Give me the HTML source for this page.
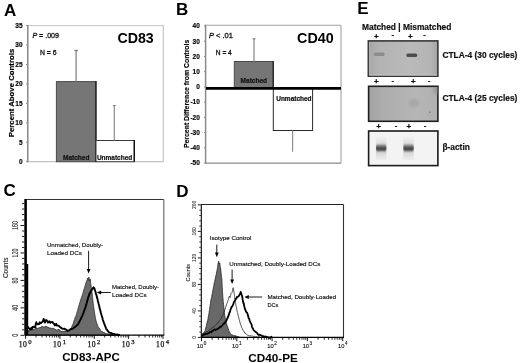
<!DOCTYPE html>
<html><head><meta charset="utf-8"><style>
html,body{margin:0;padding:0;background:#fff;}
svg{display:block;will-change:transform;}
text{font-family:"Liberation Sans", sans-serif;}
</style></head><body>
<svg width="520" height="363" viewBox="0 0 520 363">
<rect width="520" height="363" fill="#fff"/>
<text transform="translate(3.9,15.8) scale(1.0,1)" font-size="17.0" font-weight="bold">A</text>
<text transform="translate(176.0,14.6) scale(1.0,1)" font-size="17.0" font-weight="bold">B</text>
<text transform="translate(3.4,195.6) scale(1.0,1)" font-size="17.0" font-weight="bold">C</text>
<text transform="translate(176.2,197.2) scale(1.0,1)" font-size="17.0" font-weight="bold">D</text>
<text transform="translate(357.2,13.7) scale(1.0,1)" font-size="17.0" font-weight="bold">E</text>
<line x1="27.8" y1="25.6" x2="163.3" y2="25.6" stroke="#c4c4c4" stroke-width="1" />
<line x1="163.3" y1="25.6" x2="163.3" y2="161.7" stroke="#c4c4c4" stroke-width="1.2" />
<line x1="27.8" y1="161.7" x2="163.3" y2="161.7" stroke="#c4c4c4" stroke-width="1.2" />
<line x1="27.8" y1="25.1" x2="27.8" y2="162.2" stroke="#8a8a8a" stroke-width="1.5" />
<line x1="26.0" y1="161.7" x2="27.8" y2="161.7" stroke="#8a8a8a" stroke-width="1" />
<text x="22.6" y="164.04999999999998" font-size="6.5" font-weight="bold" text-anchor="end" fill="#000" stroke="#000" stroke-width="0.15">0</text>
<line x1="26.0" y1="142.25714285714284" x2="27.8" y2="142.25714285714284" stroke="#8a8a8a" stroke-width="1" />
<text x="22.6" y="144.60714285714283" font-size="6.5" font-weight="bold" text-anchor="end" fill="#000" stroke="#000" stroke-width="0.15">5</text>
<line x1="26.0" y1="122.8142857142857" x2="27.8" y2="122.8142857142857" stroke="#8a8a8a" stroke-width="1" />
<text x="22.6" y="125.1642857142857" font-size="6.5" font-weight="bold" text-anchor="end" fill="#000" stroke="#000" stroke-width="0.15">10</text>
<line x1="26.0" y1="103.37142857142857" x2="27.8" y2="103.37142857142857" stroke="#8a8a8a" stroke-width="1" />
<text x="22.6" y="105.72142857142856" font-size="6.5" font-weight="bold" text-anchor="end" fill="#000" stroke="#000" stroke-width="0.15">15</text>
<line x1="26.0" y1="83.92857142857142" x2="27.8" y2="83.92857142857142" stroke="#8a8a8a" stroke-width="1" />
<text x="22.6" y="86.27857142857141" font-size="6.5" font-weight="bold" text-anchor="end" fill="#000" stroke="#000" stroke-width="0.15">20</text>
<line x1="26.0" y1="64.48571428571428" x2="27.8" y2="64.48571428571428" stroke="#8a8a8a" stroke-width="1" />
<text x="22.6" y="66.83571428571427" font-size="6.5" font-weight="bold" text-anchor="end" fill="#000" stroke="#000" stroke-width="0.15">25</text>
<line x1="26.0" y1="45.04285714285713" x2="27.8" y2="45.04285714285713" stroke="#8a8a8a" stroke-width="1" />
<text x="22.6" y="47.39285714285713" font-size="6.5" font-weight="bold" text-anchor="end" fill="#000" stroke="#000" stroke-width="0.15">30</text>
<line x1="26.0" y1="25.599999999999994" x2="27.8" y2="25.599999999999994" stroke="#8a8a8a" stroke-width="1" />
<text x="22.6" y="27.949999999999996" font-size="6.5" font-weight="bold" text-anchor="end" fill="#000" stroke="#000" stroke-width="0.15">35</text>
<text transform="translate(13.7,93) rotate(-90)" font-size="7.8" font-weight="bold" text-anchor="middle" stroke="#000" stroke-width="0.15">Percent Above Controls</text>
<rect x="56.4" y="81.59542857142857" width="39.6" height="80.10457142857142" fill="#767676" stroke="#4a4a4a" stroke-width="1" />
<line x1="95.9" y1="81.09542857142857" x2="95.9" y2="161.7" stroke="#1e1e1e" stroke-width="1.3" />
<rect x="96.0" y="140.5072857142857" width="38.3" height="21.19271428571429" fill="#ffffff" stroke="#3a3a3a" stroke-width="1" />
<line x1="134.3" y1="140.0072857142857" x2="134.3" y2="161.7" stroke="#111" stroke-width="1.4" />
<line x1="76.1" y1="81.59542857142857" x2="76.1" y2="50.3" stroke="#8c8c8c" stroke-width="1.4" />
<line x1="74.4" y1="50.5" x2="77.8" y2="50.5" stroke="#707070" stroke-width="1.2" />
<line x1="114.3" y1="140.5072857142857" x2="114.3" y2="105.4" stroke="#8c8c8c" stroke-width="1.2" />
<line x1="112.8" y1="105.6" x2="115.8" y2="105.6" stroke="#808080" stroke-width="1" />
<text x="76.2" y="160.0" font-size="6.5" font-weight="bold" text-anchor="middle" fill="#111" stroke="#111" stroke-width="0.2">Matched</text>
<text x="114.6" y="160.0" font-size="6.5" font-weight="bold" text-anchor="middle" fill="#111" stroke="#111" stroke-width="0.2">Unmatched</text>
<text x="32.4" y="37.8" font-size="7.2" fill="#111" stroke="#111" stroke-width="0.3" textLength="26.6" lengthAdjust="spacingAndGlyphs"><tspan font-style="italic">P</tspan> = .009</text>
<text x="40.0" y="54.6" font-size="7.2" font-weight="normal" text-anchor="start" fill="#111" stroke="#111" stroke-width="0.3" textLength="16.6" lengthAdjust="spacingAndGlyphs">N = 6</text>
<text x="117.4" y="42.8" font-size="14.2" font-weight="bold" text-anchor="start" fill="#000" >CD83</text>
<line x1="205.6" y1="25.2" x2="341.0" y2="25.2" stroke="#a4a4a4" stroke-width="1.1" />
<line x1="341.0" y1="25.2" x2="341.0" y2="163.2" stroke="#acacac" stroke-width="1.2" />
<line x1="205.6" y1="163.2" x2="341.0" y2="163.2" stroke="#8a8a8a" stroke-width="1.2" />
<line x1="205.6" y1="24.7" x2="205.6" y2="163.7" stroke="#8a8a8a" stroke-width="1.5" />
<line x1="204.0" y1="163.0" x2="205.6" y2="163.0" stroke="#8a8a8a" stroke-width="1" />
<text x="199.8" y="165.35" font-size="6.5" font-weight="bold" text-anchor="end" fill="#000" stroke="#000" stroke-width="0.15">-50</text>
<line x1="204.0" y1="147.78" x2="205.6" y2="147.78" stroke="#8a8a8a" stroke-width="1" />
<text x="199.8" y="150.13" font-size="6.5" font-weight="bold" text-anchor="end" fill="#000" stroke="#000" stroke-width="0.15">-40</text>
<line x1="204.0" y1="132.56" x2="205.6" y2="132.56" stroke="#8a8a8a" stroke-width="1" />
<text x="199.8" y="134.91" font-size="6.5" font-weight="bold" text-anchor="end" fill="#000" stroke="#000" stroke-width="0.15">-30</text>
<line x1="204.0" y1="117.34" x2="205.6" y2="117.34" stroke="#8a8a8a" stroke-width="1" />
<text x="199.8" y="119.69" font-size="6.5" font-weight="bold" text-anchor="end" fill="#000" stroke="#000" stroke-width="0.15">-20</text>
<line x1="204.0" y1="102.12" x2="205.6" y2="102.12" stroke="#8a8a8a" stroke-width="1" />
<text x="199.8" y="104.47" font-size="6.5" font-weight="bold" text-anchor="end" fill="#000" stroke="#000" stroke-width="0.15">-10</text>
<line x1="204.0" y1="86.9" x2="205.6" y2="86.9" stroke="#8a8a8a" stroke-width="1" />
<text x="199.8" y="89.25" font-size="6.5" font-weight="bold" text-anchor="end" fill="#000" stroke="#000" stroke-width="0.15">0</text>
<line x1="204.0" y1="71.68" x2="205.6" y2="71.68" stroke="#8a8a8a" stroke-width="1" />
<text x="199.8" y="74.03" font-size="6.5" font-weight="bold" text-anchor="end" fill="#000" stroke="#000" stroke-width="0.15">10</text>
<line x1="204.0" y1="56.46000000000001" x2="205.6" y2="56.46000000000001" stroke="#8a8a8a" stroke-width="1" />
<text x="199.8" y="58.81000000000001" font-size="6.5" font-weight="bold" text-anchor="end" fill="#000" stroke="#000" stroke-width="0.15">20</text>
<line x1="204.0" y1="41.24" x2="205.6" y2="41.24" stroke="#8a8a8a" stroke-width="1" />
<text x="199.8" y="43.59" font-size="6.5" font-weight="bold" text-anchor="end" fill="#000" stroke="#000" stroke-width="0.15">30</text>
<line x1="204.0" y1="26.020000000000003" x2="205.6" y2="26.020000000000003" stroke="#8a8a8a" stroke-width="1" />
<text x="199.8" y="28.370000000000005" font-size="6.5" font-weight="bold" text-anchor="end" fill="#000" stroke="#000" stroke-width="0.15">40</text>
<text transform="translate(188.8,93.9) rotate(-90)" font-size="6.9" font-weight="bold" text-anchor="middle" stroke="#000" stroke-width="0.15">Percent Difference from Controls</text>
<rect x="234.3" y="61.5" width="39.0" height="26.0" fill="#767676" stroke="#4a4a4a" stroke-width="1" />
<line x1="273.2" y1="61.0" x2="273.2" y2="87.5" stroke="#1e1e1e" stroke-width="1.2" />
<rect x="273.3" y="88.0" width="39.3" height="42.5" fill="#ffffff" stroke="#2a2a2a" stroke-width="1" />
<line x1="254.0" y1="61.5" x2="254.0" y2="38.6" stroke="#909090" stroke-width="1.3" />
<line x1="252.5" y1="38.8" x2="255.5" y2="38.8" stroke="#707070" stroke-width="1.0" />
<line x1="292.6" y1="130.5" x2="292.6" y2="151.8" stroke="#909090" stroke-width="1.2" />
<line x1="206.0" y1="88.3" x2="341.0" y2="88.3" stroke="#000" stroke-width="2.8" />
<text x="253.8" y="83.4" font-size="6.5" font-weight="bold" text-anchor="middle" fill="#111" stroke="#111" stroke-width="0.2">Matched</text>
<text x="293.9" y="101.2" font-size="6.5" font-weight="bold" text-anchor="middle" fill="#111" stroke="#111" stroke-width="0.2">Unmatched</text>
<text x="209" y="37.7" font-size="7.2" fill="#111" stroke="#111" stroke-width="0.3" textLength="23.8" lengthAdjust="spacingAndGlyphs"><tspan font-style="italic">P</tspan> &lt; .01</text>
<text x="215.8" y="54.8" font-size="7.2" font-weight="normal" text-anchor="start" fill="#111" stroke="#111" stroke-width="0.3" textLength="16.0" lengthAdjust="spacingAndGlyphs">N = 4</text>
<text x="297.1" y="43.4" font-size="14.3" font-weight="bold" text-anchor="start" fill="#000" >CD40</text>
<text x="362.0" y="30.0" font-size="8.4" font-weight="bold" text-anchor="start" fill="#111" stroke="#111" stroke-width="0.2">Matched | Mismatched</text>
<text x="376.3" y="38.5" font-size="8" font-weight="bold" text-anchor="middle" fill="#111" stroke="#111" stroke-width="0.25">+</text>
<text x="392.9" y="37.2" font-size="8" font-weight="bold" text-anchor="middle" fill="#111" stroke="#111" stroke-width="0.15">-</text>
<text x="410.4" y="38.5" font-size="8" font-weight="bold" text-anchor="middle" fill="#111" stroke="#111" stroke-width="0.25">+</text>
<text x="424.6" y="37.2" font-size="8" font-weight="bold" text-anchor="middle" fill="#111" stroke="#111" stroke-width="0.15">-</text>
<text x="376.4" y="84.0" font-size="8" font-weight="bold" text-anchor="middle" fill="#111" stroke="#111" stroke-width="0.25">+</text>
<text x="392.9" y="82.7" font-size="8" font-weight="bold" text-anchor="middle" fill="#111" stroke="#111" stroke-width="0.15">-</text>
<text x="413.3" y="84.0" font-size="8" font-weight="bold" text-anchor="middle" fill="#111" stroke="#111" stroke-width="0.25">+</text>
<text x="429.2" y="82.7" font-size="8" font-weight="bold" text-anchor="middle" fill="#111" stroke="#111" stroke-width="0.15">-</text>
<text x="378.6" y="129.0" font-size="8" font-weight="bold" text-anchor="middle" fill="#111" stroke="#111" stroke-width="0.25">+</text>
<text x="396.0" y="127.7" font-size="8" font-weight="bold" text-anchor="middle" fill="#111" stroke="#111" stroke-width="0.15">-</text>
<text x="408.8" y="129.0" font-size="8" font-weight="bold" text-anchor="middle" fill="#111" stroke="#111" stroke-width="0.25">+</text>
<text x="425.0" y="127.7" font-size="8" font-weight="bold" text-anchor="middle" fill="#111" stroke="#111" stroke-width="0.15">-</text>
<defs>
<linearGradient id="g1" x1="0" y1="0" x2="1" y2="0">
<stop offset="0" stop-color="#a6a6a6"/><stop offset="0.15" stop-color="#b2b2b2"/><stop offset="0.6" stop-color="#bababa"/><stop offset="0.9" stop-color="#b4b4b4"/><stop offset="1" stop-color="#a4a4a4"/></linearGradient>
<linearGradient id="g2" x1="0" y1="0" x2="1" y2="0">
<stop offset="0" stop-color="#a2a2a2"/><stop offset="0.2" stop-color="#adadad"/><stop offset="0.7" stop-color="#b6b6b6"/><stop offset="1" stop-color="#b0b0b0"/></linearGradient>
<linearGradient id="sm" x1="0" y1="0" x2="0" y2="1">
<stop offset="0" stop-color="#f0f0f0"/><stop offset="0.3" stop-color="#dcdcdc"/><stop offset="0.5" stop-color="#c4c4c4"/><stop offset="0.7" stop-color="#d8d8d8"/><stop offset="1" stop-color="#eeeeee"/></linearGradient>
<linearGradient id="core" x1="0" y1="0" x2="0" y2="1">
<stop offset="0" stop-color="#8a8a8a"/><stop offset="0.45" stop-color="#555"/><stop offset="0.8" stop-color="#303030"/><stop offset="1" stop-color="#606060"/></linearGradient>
<filter id="bl" x="-50%" y="-50%" width="200%" height="200%"><feGaussianBlur stdDeviation="0.55"/></filter>
<filter id="bl4" x="-50%" y="-50%" width="200%" height="200%"><feGaussianBlur stdDeviation="0.75 0.6"/></filter>
<filter id="bl5" x="-50%" y="-50%" width="200%" height="200%"><feGaussianBlur stdDeviation="0.7 0.8"/></filter>
<filter id="bl3" x="-50%" y="-50%" width="200%" height="200%"><feGaussianBlur stdDeviation="1.5"/></filter>
<filter id="bl2" x="-50%" y="-50%" width="200%" height="200%"><feGaussianBlur stdDeviation="0.5 0.8"/></filter>
</defs>
<rect x="368.3" y="40.9" width="69.6" height="35.3" fill="url(#g1)" stroke="#2c2c2c" stroke-width="1.5" />
<rect x="373.8" y="52.6" width="10.8" height="3.3" fill="#8c8c8c" stroke="none" stroke-width="1" rx="1.5" filter="url(#bl4)"/>
<rect x="406.4" y="53.5" width="10.8" height="3.4" fill="#4e4e4e" stroke="none" stroke-width="1" rx="1.5" filter="url(#bl4)"/>
<line x1="369.3" y1="75.2" x2="437.2" y2="75.2" stroke="#d0d0d0" stroke-width="0.8" />
<line x1="369.3" y1="41.8" x2="369.3" y2="75.2" stroke="#c4c4c4" stroke-width="0.6" />
<rect x="368.6" y="86.3" width="69.3" height="35.0" fill="url(#g2)" stroke="#1e1e1e" stroke-width="1.6" />
<ellipse cx="414" cy="103" rx="5.5" ry="4" fill="#a6a6a6" filter="url(#bl3)"/>
<clipPath id="cg2"><rect x="369" y="87" width="68.5" height="33.6"/></clipPath>
<g clip-path="url(#cg2)"><ellipse cx="438" cy="87" rx="5" ry="8" fill="#949494" opacity="0.8" filter="url(#bl3)"/></g>
<ellipse cx="429.8" cy="112.2" rx="1.1" ry="0.8" fill="#808080" filter="url(#bl)"/>
<rect x="368.6" y="131.0" width="69.3" height="34.6" fill="#f3f3f3" stroke="#1a1a1a" stroke-width="1.6" />
<rect x="375.9" y="137.0" width="10.6" height="23.0" fill="url(#sm)" stroke="none" stroke-width="1" filter="url(#bl)"/>
<rect x="376.0" y="144.8" width="10.4" height="6.2" fill="url(#core)" stroke="none" stroke-width="1" rx="2" filter="url(#bl5)"/>
<rect x="403.2" y="137.0" width="10.6" height="23.0" fill="url(#sm)" stroke="none" stroke-width="1" filter="url(#bl)"/>
<rect x="403.3" y="144.8" width="10.4" height="6.2" fill="url(#core)" stroke="none" stroke-width="1" rx="2" filter="url(#bl5)"/>
<text x="442.4" y="58.0" font-size="8.4" font-weight="bold" text-anchor="start" fill="#111" stroke="#111" stroke-width="0.2">CTLA-4 (30 cycles)</text>
<text x="442.4" y="100.8" font-size="8.4" font-weight="bold" text-anchor="start" fill="#111" stroke="#111" stroke-width="0.2">CTLA-4 (25 cycles)</text>
<text x="442.4" y="149.5" font-size="8.4" font-weight="bold" text-anchor="start" fill="#111" stroke="#111" stroke-width="0.2">&#946;-actin</text>
<path d="M27.00,334.92 L27.00,334.21 L27.00,333.17 L27.00,332.41 L27.00,331.51 L27.00,330.20 L28.00,329.87 L29.00,331.61 L30.00,330.07 L31.00,329.52 L32.00,330.49 L33.00,329.15 L34.00,329.96 L35.00,329.46 L35.67,329.25 L36.33,327.87 L37.00,328.24 L38.00,328.46 L39.00,327.64 L40.00,327.73 L41.00,327.31 L42.00,326.02 L43.00,327.06 L44.00,327.06 L45.00,326.84 L46.00,326.06 L47.00,327.26 L48.00,326.95 L49.00,327.79 L50.00,328.18 L51.00,327.99 L52.00,328.66 L53.00,328.01 L54.00,329.14 L55.00,328.90 L56.00,330.08 L57.00,330.28 L58.00,329.23 L59.00,329.64 L60.00,330.14 L61.00,331.84 L62.00,331.09 L63.00,331.63 L64.00,331.24 L65.00,331.81 L66.00,331.29 L67.00,330.93 L67.75,331.05 L68.50,330.66 L69.25,330.33 L70.00,329.63 L70.47,329.03 L70.93,328.22 L71.40,327.54 L71.83,326.45 L72.27,325.23 L72.70,324.85 L73.00,324.08 L73.30,323.18 L73.60,322.10 L73.90,321.35 L74.20,320.15 L74.50,319.73 L74.79,318.79 L75.07,317.84 L75.36,316.92 L75.64,316.72 L75.93,316.06 L76.21,314.67 L76.50,314.41 L76.75,313.27 L77.00,312.22 L77.25,311.46 L77.50,310.92 L77.75,310.13 L78.00,308.68 L78.23,308.21 L78.47,306.95 L78.70,306.55 L78.93,305.42 L79.17,304.93 L79.40,304.14 L79.67,303.00 L79.93,302.55 L80.20,301.27 L80.47,300.30 L80.73,299.87 L81.00,298.67 L81.28,297.97 L81.56,297.30 L81.84,296.62 L82.12,295.48 L82.40,294.58 L82.62,294.38 L82.84,293.21 L83.06,292.88 L83.28,292.06 L83.50,290.91 L83.78,290.07 L84.05,289.21 L84.32,288.40 L84.60,287.47 L84.87,286.47 L85.13,285.55 L85.40,284.81 L85.63,283.74 L85.87,282.92 L86.10,282.35 L86.80,280.82 L87.07,279.93 L87.33,279.47 L87.60,278.21 L87.90,279.38 L88.20,280.16 L88.38,279.54 L88.55,278.76 L88.73,277.46 L88.90,276.98 L89.02,277.81 L89.14,278.23 L89.26,279.45 L89.38,280.16 L89.50,281.13 L89.85,279.80 L90.20,278.94 L90.30,279.83 L90.40,280.20 L90.50,281.09 L90.60,282.39 L90.70,283.46 L90.80,283.83 L90.92,284.80 L91.03,285.73 L91.15,286.37 L91.27,287.24 L91.38,288.04 L91.50,288.91 L91.62,289.90 L91.73,290.53 L91.85,291.41 L91.97,292.52 L92.08,292.84 L92.20,294.05 L92.29,295.02 L92.37,295.58 L92.46,296.38 L92.54,297.64 L92.63,298.10 L92.71,298.92 L92.80,299.95 L92.91,301.00 L93.03,301.44 L93.14,302.45 L93.26,303.31 L93.37,304.52 L93.49,305.10 L93.60,306.25 L93.71,306.63 L93.83,307.60 L93.94,308.68 L94.06,309.70 L94.17,310.25 L94.29,310.95 L94.40,311.73 L94.55,312.94 L94.70,313.62 L94.85,314.96 L95.00,315.90 L95.15,316.36 L95.30,317.35 L95.50,318.55 L95.70,319.27 L95.90,320.21 L96.10,320.73 L96.30,321.41 L96.50,322.35 L96.80,323.51 L97.10,323.94 L97.40,324.79 L97.70,325.64 L98.00,326.44 L98.50,327.19 L99.00,328.29 L99.50,328.51 L100.00,329.15 L100.62,330.39 L101.25,330.92 L101.88,331.57 L102.50,331.75 L103.28,332.49 L104.05,332.85 L104.82,332.73 L105.60,333.47 L106.48,333.76 L107.36,333.85 L108.24,333.97 L109.12,334.03 L110.00,334.29 L110.86,334.31 L111.71,334.30 L112.57,334.76 L113.43,334.65 L114.29,335.12 L115.14,334.68 L116.00,335.38 Z" fill="#6c6c6c" stroke="#262626" stroke-width="0.8"/>
<path d="M27.60,326.15 L28.30,327.68 L29.00,328.37 L29.75,329.23 L30.50,329.37 L31.25,327.83 L32.00,329.14 L32.50,327.18 L33.00,326.76 L33.50,326.86 L34.25,327.10 L35.00,327.41 L35.22,327.68 L35.43,326.08 L35.65,324.60 L35.87,323.52 L36.08,323.98 L36.30,322.25 L36.70,323.79 L37.10,323.71 L37.50,324.23 L38.25,324.23 L39.00,324.10 L39.75,322.28 L40.50,323.24 L41.25,322.93 L42.00,322.07 L42.85,321.41 L43.70,318.92 L44.35,321.18 L45.00,322.60 L45.75,320.21 L46.50,320.10 L47.25,320.99 L48.00,322.46 L48.75,321.73 L49.50,321.34 L50.25,322.91 L51.00,322.10 L52.50,322.02 L53.07,322.85 L53.63,323.51 L54.20,324.05 L54.85,325.44 L55.50,324.58 L56.25,323.79 L57.00,325.60 L58.50,325.59 L59.25,326.29 L60.00,327.07 L61.50,328.12 L62.25,328.69 L63.00,328.89 L64.50,328.72 L65.25,329.52 L66.00,329.57 L67.50,330.72 L69.00,330.37 L69.75,329.80 L70.50,329.26 L71.25,329.04 L72.00,328.90 L72.75,328.53 L73.50,328.13 L74.25,327.25 L75.00,327.04 L75.72,326.35 L76.45,325.65 L77.18,325.05 L77.90,324.60 L78.32,323.94 L78.74,322.90 L79.16,322.30 L79.58,321.29 L80.00,320.30 L80.42,319.68 L80.85,318.96 L81.28,317.61 L81.70,317.04 L82.00,316.26 L82.30,315.84 L82.60,315.11 L82.90,313.88 L83.20,313.52 L83.55,312.56 L83.90,311.26 L84.25,310.55 L84.60,309.40 L84.88,309.11 L85.16,308.15 L85.44,307.49 L85.72,306.57 L86.00,305.63 L86.22,304.89 L86.45,303.95 L86.68,302.78 L86.90,302.37 L87.18,300.95 L87.45,300.11 L87.72,299.67 L88.00,298.14 L88.28,297.27 L88.55,296.38 L88.82,296.10 L89.10,294.64 L89.47,293.72 L89.83,293.57 L90.20,292.20 L90.75,291.73 L91.30,290.54 L92.00,289.47 L92.80,288.56 L93.50,287.26 L93.95,288.14 L94.40,288.23 L94.70,289.68 L95.00,290.34 L95.30,291.37 L95.55,291.77 L95.80,293.17 L96.05,294.20 L96.30,294.38 L96.55,295.48 L96.80,296.55 L97.00,297.57 L97.20,297.92 L97.40,298.68 L97.60,299.55 L97.80,300.66 L98.00,301.58 L98.20,302.10 L98.40,302.89 L98.61,303.77 L98.83,304.59 L99.04,305.51 L99.26,306.10 L99.47,307.29 L99.69,308.52 L99.90,308.93 L100.11,310.00 L100.33,310.33 L100.54,311.55 L100.76,312.40 L100.97,313.14 L101.19,313.81 L101.40,314.59 L101.65,315.58 L101.90,316.65 L102.15,316.92 L102.40,317.74 L102.65,319.13 L102.90,320.13 L103.20,320.71 L103.50,321.55 L103.80,322.68 L104.10,323.15 L104.40,324.11 L104.72,324.84 L105.04,325.93 L105.36,326.49 L105.68,327.21 L106.00,328.35 L106.50,329.31 L107.00,329.54 L107.50,330.61 L108.00,331.13 L108.67,332.05 L109.33,332.40 L110.00,332.71 L110.83,333.04 L111.67,333.25 L112.50,333.98 L113.38,334.06 L114.25,334.04 L115.12,334.34 L116.00,334.46 L116.80,334.88 L117.60,334.43 L118.40,335.17 L119.20,334.82 L120.00,334.98" fill="none" stroke="#000" stroke-width="1.9" stroke-linejoin="round"/>
<rect x="26.4" y="264.0" width="1.8" height="71.0" fill="#000" stroke="none" stroke-width="1" />
<line x1="25.6" y1="199.5" x2="163.8" y2="199.5" stroke="#333" stroke-width="1" />
<line x1="163.8" y1="199.5" x2="163.8" y2="335.1" stroke="#7a7a7a" stroke-width="1.3" />
<line x1="25.1" y1="335.1" x2="164.3" y2="335.1" stroke="#000" stroke-width="1.3" />
<line x1="25.6" y1="199.0" x2="25.6" y2="335.6" stroke="#000" stroke-width="2.6" />
<line x1="20.5" y1="335.3" x2="24.3" y2="335.3" stroke="#000" stroke-width="0.9" />
<text transform="translate(17.6,335.30) rotate(-90)" font-size="8.4" text-anchor="middle" fill="#2a2a2a" stroke="#2a2a2a" stroke-width="0.06" textLength="3.0" lengthAdjust="spacingAndGlyphs">0</text>
<line x1="22.1" y1="329.81" x2="24.3" y2="329.81" stroke="#000" stroke-width="0.9" />
<line x1="22.1" y1="324.32" x2="24.3" y2="324.32" stroke="#000" stroke-width="0.9" />
<line x1="22.1" y1="318.83000000000004" x2="24.3" y2="318.83000000000004" stroke="#000" stroke-width="0.9" />
<line x1="22.1" y1="313.34000000000003" x2="24.3" y2="313.34000000000003" stroke="#000" stroke-width="0.9" />
<line x1="20.5" y1="307.85" x2="24.3" y2="307.85" stroke="#000" stroke-width="0.9" />
<text transform="translate(17.6,307.85) rotate(-90)" font-size="8.4" text-anchor="middle" fill="#2a2a2a" stroke="#2a2a2a" stroke-width="0.06" textLength="6.0" lengthAdjust="spacingAndGlyphs">40</text>
<line x1="22.1" y1="302.36" x2="24.3" y2="302.36" stroke="#000" stroke-width="0.9" />
<line x1="22.1" y1="296.87" x2="24.3" y2="296.87" stroke="#000" stroke-width="0.9" />
<line x1="22.1" y1="291.38" x2="24.3" y2="291.38" stroke="#000" stroke-width="0.9" />
<line x1="22.1" y1="285.89" x2="24.3" y2="285.89" stroke="#000" stroke-width="0.9" />
<line x1="20.5" y1="280.4" x2="24.3" y2="280.4" stroke="#000" stroke-width="0.9" />
<text transform="translate(17.6,280.40) rotate(-90)" font-size="8.4" text-anchor="middle" fill="#2a2a2a" stroke="#2a2a2a" stroke-width="0.06" textLength="6.0" lengthAdjust="spacingAndGlyphs">80</text>
<line x1="22.1" y1="274.91" x2="24.3" y2="274.91" stroke="#000" stroke-width="0.9" />
<line x1="22.1" y1="269.42" x2="24.3" y2="269.42" stroke="#000" stroke-width="0.9" />
<line x1="22.1" y1="263.93" x2="24.3" y2="263.93" stroke="#000" stroke-width="0.9" />
<line x1="22.1" y1="258.44" x2="24.3" y2="258.44" stroke="#000" stroke-width="0.9" />
<line x1="20.5" y1="252.95" x2="24.3" y2="252.95" stroke="#000" stroke-width="0.9" />
<text transform="translate(17.6,252.95) rotate(-90)" font-size="8.4" text-anchor="middle" fill="#2a2a2a" stroke="#2a2a2a" stroke-width="0.06" textLength="9.0" lengthAdjust="spacingAndGlyphs">120</text>
<line x1="22.1" y1="247.46" x2="24.3" y2="247.46" stroke="#000" stroke-width="0.9" />
<line x1="22.1" y1="241.97000000000003" x2="24.3" y2="241.97000000000003" stroke="#000" stroke-width="0.9" />
<line x1="22.1" y1="236.48000000000002" x2="24.3" y2="236.48000000000002" stroke="#000" stroke-width="0.9" />
<line x1="22.1" y1="230.99" x2="24.3" y2="230.99" stroke="#000" stroke-width="0.9" />
<line x1="20.5" y1="225.5" x2="24.3" y2="225.5" stroke="#000" stroke-width="0.9" />
<text transform="translate(17.6,225.50) rotate(-90)" font-size="8.4" text-anchor="middle" fill="#2a2a2a" stroke="#2a2a2a" stroke-width="0.06" textLength="9.0" lengthAdjust="spacingAndGlyphs">160</text>
<line x1="22.1" y1="220.01" x2="24.3" y2="220.01" stroke="#000" stroke-width="0.9" />
<line x1="22.1" y1="214.52" x2="24.3" y2="214.52" stroke="#000" stroke-width="0.9" />
<line x1="22.1" y1="209.03" x2="24.3" y2="209.03" stroke="#000" stroke-width="0.9" />
<line x1="22.1" y1="203.54000000000002" x2="24.3" y2="203.54000000000002" stroke="#000" stroke-width="0.9" />
<text transform="translate(8.4,267.8) rotate(-90)" font-size="6.6" text-anchor="middle" fill="#222" stroke="#222" stroke-width="0.1" textLength="20.6" lengthAdjust="spacingAndGlyphs">Counts</text>
<line x1="25.6" y1="335.1" x2="25.6" y2="338.90000000000003" stroke="#000" stroke-width="0.9" />
<text x="27.30" y="347.4" font-size="7.6" text-anchor="end" fill="#111" stroke="#111" stroke-width="0.25" style="font-family:'Liberation Serif', serif;letter-spacing:0.5px">10</text>
<text x="28.30" y="344.4" font-size="6.6" text-anchor="start" fill="#111" stroke="#111" stroke-width="0.25" style="font-family:'Liberation Serif', serif">0</text>
<line x1="35.940380351057755" y1="335.1" x2="35.940380351057755" y2="337.5" stroke="#000" stroke-width="0.8" />
<line x1="41.989115099620406" y1="335.1" x2="41.989115099620406" y2="337.5" stroke="#000" stroke-width="0.8" />
<line x1="46.280760702115515" y1="335.1" x2="46.280760702115515" y2="337.5" stroke="#000" stroke-width="0.8" />
<line x1="49.60961964894225" y1="335.1" x2="49.60961964894225" y2="337.5" stroke="#000" stroke-width="0.8" />
<line x1="52.329495450678166" y1="335.1" x2="52.329495450678166" y2="337.5" stroke="#000" stroke-width="0.8" />
<line x1="54.62911767448972" y1="335.1" x2="54.62911767448972" y2="337.5" stroke="#000" stroke-width="0.8" />
<line x1="56.62114105317326" y1="335.1" x2="56.62114105317326" y2="337.5" stroke="#000" stroke-width="0.8" />
<line x1="58.37823019924081" y1="335.1" x2="58.37823019924081" y2="337.5" stroke="#000" stroke-width="0.8" />
<line x1="59.95" y1="335.1" x2="59.95" y2="338.90000000000003" stroke="#000" stroke-width="0.9" />
<text x="61.65" y="347.4" font-size="7.6" text-anchor="end" fill="#111" stroke="#111" stroke-width="0.25" style="font-family:'Liberation Serif', serif;letter-spacing:0.5px">10</text>
<text x="62.65" y="344.4" font-size="6.6" text-anchor="start" fill="#111" stroke="#111" stroke-width="0.25" style="font-family:'Liberation Serif', serif">1</text>
<line x1="70.29038035105776" y1="335.1" x2="70.29038035105776" y2="337.5" stroke="#000" stroke-width="0.8" />
<line x1="76.33911509962041" y1="335.1" x2="76.33911509962041" y2="337.5" stroke="#000" stroke-width="0.8" />
<line x1="80.63076070211551" y1="335.1" x2="80.63076070211551" y2="337.5" stroke="#000" stroke-width="0.8" />
<line x1="83.95961964894225" y1="335.1" x2="83.95961964894225" y2="337.5" stroke="#000" stroke-width="0.8" />
<line x1="86.67949545067816" y1="335.1" x2="86.67949545067816" y2="337.5" stroke="#000" stroke-width="0.8" />
<line x1="88.97911767448973" y1="335.1" x2="88.97911767448973" y2="337.5" stroke="#000" stroke-width="0.8" />
<line x1="90.97114105317327" y1="335.1" x2="90.97114105317327" y2="337.5" stroke="#000" stroke-width="0.8" />
<line x1="92.72823019924081" y1="335.1" x2="92.72823019924081" y2="337.5" stroke="#000" stroke-width="0.8" />
<line x1="94.30000000000001" y1="335.1" x2="94.30000000000001" y2="338.90000000000003" stroke="#000" stroke-width="0.9" />
<text x="96.00" y="347.4" font-size="7.6" text-anchor="end" fill="#111" stroke="#111" stroke-width="0.25" style="font-family:'Liberation Serif', serif;letter-spacing:0.5px">10</text>
<text x="97.00" y="344.4" font-size="6.6" text-anchor="start" fill="#111" stroke="#111" stroke-width="0.25" style="font-family:'Liberation Serif', serif">2</text>
<line x1="104.64038035105777" y1="335.1" x2="104.64038035105777" y2="337.5" stroke="#000" stroke-width="0.8" />
<line x1="110.68911509962041" y1="335.1" x2="110.68911509962041" y2="337.5" stroke="#000" stroke-width="0.8" />
<line x1="114.98076070211552" y1="335.1" x2="114.98076070211552" y2="337.5" stroke="#000" stroke-width="0.8" />
<line x1="118.30961964894226" y1="335.1" x2="118.30961964894226" y2="337.5" stroke="#000" stroke-width="0.8" />
<line x1="121.02949545067817" y1="335.1" x2="121.02949545067817" y2="337.5" stroke="#000" stroke-width="0.8" />
<line x1="123.32911767448974" y1="335.1" x2="123.32911767448974" y2="337.5" stroke="#000" stroke-width="0.8" />
<line x1="125.32114105317328" y1="335.1" x2="125.32114105317328" y2="337.5" stroke="#000" stroke-width="0.8" />
<line x1="127.07823019924082" y1="335.1" x2="127.07823019924082" y2="337.5" stroke="#000" stroke-width="0.8" />
<line x1="128.65" y1="335.1" x2="128.65" y2="338.90000000000003" stroke="#000" stroke-width="0.9" />
<text x="130.35" y="347.4" font-size="7.6" text-anchor="end" fill="#111" stroke="#111" stroke-width="0.25" style="font-family:'Liberation Serif', serif;letter-spacing:0.5px">10</text>
<text x="131.35" y="344.4" font-size="6.6" text-anchor="start" fill="#111" stroke="#111" stroke-width="0.25" style="font-family:'Liberation Serif', serif">3</text>
<line x1="138.99038035105775" y1="335.1" x2="138.99038035105775" y2="337.5" stroke="#000" stroke-width="0.8" />
<line x1="145.0391150996204" y1="335.1" x2="145.0391150996204" y2="337.5" stroke="#000" stroke-width="0.8" />
<line x1="149.33076070211553" y1="335.1" x2="149.33076070211553" y2="337.5" stroke="#000" stroke-width="0.8" />
<line x1="152.65961964894225" y1="335.1" x2="152.65961964894225" y2="337.5" stroke="#000" stroke-width="0.8" />
<line x1="155.37949545067818" y1="335.1" x2="155.37949545067818" y2="337.5" stroke="#000" stroke-width="0.8" />
<line x1="157.67911767448973" y1="335.1" x2="157.67911767448973" y2="337.5" stroke="#000" stroke-width="0.8" />
<line x1="159.67114105317327" y1="335.1" x2="159.67114105317327" y2="337.5" stroke="#000" stroke-width="0.8" />
<line x1="161.42823019924083" y1="335.1" x2="161.42823019924083" y2="337.5" stroke="#000" stroke-width="0.8" />
<line x1="163.0" y1="335.1" x2="163.0" y2="338.90000000000003" stroke="#000" stroke-width="0.9" />
<text x="164.70" y="347.4" font-size="7.6" text-anchor="end" fill="#111" stroke="#111" stroke-width="0.25" style="font-family:'Liberation Serif', serif;letter-spacing:0.5px">10</text>
<text x="165.70" y="344.4" font-size="6.6" text-anchor="start" fill="#111" stroke="#111" stroke-width="0.25" style="font-family:'Liberation Serif', serif">4</text>
<text x="46.9" y="247.4" font-size="6.15" font-weight="normal" fill="#111" textLength="56.2" lengthAdjust="spacingAndGlyphs" stroke="#111" stroke-width="0.15">Unmatched, Doubly-</text>
<text x="46.9" y="254.9" font-size="6.15" font-weight="normal" fill="#111" textLength="35.0" lengthAdjust="spacingAndGlyphs" stroke="#111" stroke-width="0.15">Loaded DCs</text>
<line x1="88.6" y1="250.8" x2="88.6" y2="269.4" stroke="#000" stroke-width="0.9" />
<path d="M86.69999999999999,268.9 L90.5,268.9 L88.6,273.5 Z" fill="#000"/>
<text x="112.0" y="289.3" font-size="6.15" font-weight="normal" fill="#111" textLength="47.0" lengthAdjust="spacingAndGlyphs" stroke="#111" stroke-width="0.15">Matched, Doubly-</text>
<text x="112.0" y="296.6" font-size="6.15" font-weight="normal" fill="#111" textLength="34.6" lengthAdjust="spacingAndGlyphs" stroke="#111" stroke-width="0.15">Loaded DCs</text>
<line x1="100.7" y1="292.5" x2="110.8" y2="292.5" stroke="#000" stroke-width="0.9" />
<path d="M101.2,290.6 L101.2,294.4 L96.8,292.5 Z" fill="#000"/>
<text x="62.3" y="360.6" font-size="11.5" font-weight="bold" text-anchor="start" fill="#000" >CD83-APC</text>
<path d="M201.80,337.37 L201.80,336.77 L201.80,335.79 L201.80,334.56 L202.80,333.68 L203.40,333.32 L204.00,332.86 L204.40,331.63 L204.80,331.20 L205.20,330.66 L205.40,329.37 L205.60,328.33 L205.80,327.53 L206.00,327.22 L206.20,326.40 L206.40,325.90 L206.60,325.01 L206.80,323.62 L207.00,322.79 L207.20,321.94 L207.40,320.95 L207.60,320.54 L207.80,319.78 L208.00,318.90 L208.15,317.46 L208.30,317.27 L208.45,315.91 L208.60,315.22 L208.75,314.73 L208.90,313.29 L209.03,312.48 L209.16,312.41 L209.29,311.05 L209.41,310.30 L209.54,309.71 L209.67,308.99 L209.80,307.51 L209.91,306.98 L210.03,306.22 L210.14,305.41 L210.26,304.28 L210.37,303.80 L210.49,303.31 L210.60,301.89 L210.77,301.19 L210.94,299.90 L211.11,299.20 L211.29,298.74 L211.46,297.33 L211.63,297.24 L211.80,296.41 L211.96,294.77 L212.11,294.78 L212.27,293.39 L212.43,292.96 L212.59,292.11 L212.74,290.82 L212.90,290.38 L213.07,289.47 L213.24,288.73 L213.41,287.31 L213.59,286.91 L213.76,286.23 L213.93,285.06 L214.10,284.04 L214.27,282.83 L214.44,282.42 L214.61,281.50 L214.79,281.08 L214.96,280.25 L215.13,279.35 L215.30,278.18 L215.47,277.86 L215.64,277.06 L215.81,275.82 L215.99,275.75 L216.16,274.73 L216.33,273.41 L216.50,273.43 L216.67,271.72 L216.83,271.00 L217.00,270.47 L217.17,269.43 L217.33,268.47 L217.50,267.65 L217.62,266.62 L217.73,265.65 L217.85,264.68 L217.97,263.74 L218.08,263.55 L218.20,262.75 L218.70,261.24 L218.87,262.44 L219.03,263.06 L219.20,263.97 L219.45,263.28 L219.70,262.97 L219.82,263.12 L219.95,264.55 L220.07,265.27 L220.20,266.77 L220.37,267.22 L220.53,268.07 L220.70,269.00 L220.78,269.96 L220.87,271.01 L220.95,271.40 L221.03,272.71 L221.12,272.80 L221.20,273.77 L221.30,274.46 L221.40,275.33 L221.50,276.85 L221.60,277.66 L221.70,277.97 L221.80,278.83 L221.90,279.92 L221.94,281.08 L221.98,281.98 L222.03,282.75 L222.07,283.43 L222.11,283.81 L222.15,284.90 L222.19,285.53 L222.23,286.69 L222.28,287.57 L222.32,288.04 L222.36,288.92 L222.40,290.28 L222.45,290.36 L222.50,291.95 L222.55,292.87 L222.60,293.75 L222.65,294.01 L222.70,295.00 L222.75,295.86 L222.80,296.73 L222.88,297.88 L222.95,298.39 L223.03,298.80 L223.10,300.16 L223.18,300.58 L223.25,301.50 L223.33,302.43 L223.40,302.50 L223.48,304.12 L223.57,304.86 L223.65,305.54 L223.73,306.42 L223.82,307.21 L223.90,307.79 L224.00,309.03 L224.10,309.44 L224.20,310.80 L224.30,311.85 L224.40,312.54 L224.50,313.57 L224.64,314.88 L224.78,315.73 L224.92,315.90 L225.06,317.47 L225.20,318.22 L225.40,318.50 L225.60,319.66 L225.80,320.38 L226.00,321.08 L226.22,322.34 L226.45,323.53 L226.68,323.72 L226.90,325.07 L227.20,325.83 L227.50,326.20 L227.80,327.86 L228.20,328.70 L228.60,330.13 L229.00,330.82 L229.40,331.74 L229.80,332.09 L230.20,333.31 L230.95,334.18 L231.70,334.86 L232.47,334.87 L233.23,335.62 L234.00,335.79 L235.00,335.74 L236.00,336.01 L237.00,336.38 L237.80,336.62 L238.60,336.70 L239.40,337.16 L240.20,337.48 L241.00,337.44 Z" fill="#686868" stroke="#222" stroke-width="0.8"/>
<path d="M202.00,333.93 L202.75,333.83 L203.50,333.22 L204.25,333.07 L205.00,333.03 L205.75,332.26 L206.50,331.61 L207.25,331.81 L208.00,331.20 L208.60,330.48 L209.20,330.08 L209.80,329.83 L210.40,329.49 L211.00,328.75 L211.60,328.11 L212.20,327.86 L212.80,327.93 L213.40,326.92 L214.00,326.76 L214.60,325.97 L215.20,325.42 L215.80,324.82 L216.40,324.47 L217.00,323.70 L217.50,322.99 L218.00,322.48 L218.50,321.95 L219.00,321.66 L219.50,320.69 L220.00,320.07 L220.36,319.81 L220.71,319.13 L221.07,318.75 L221.43,317.52 L221.79,317.20 L222.14,316.55 L222.50,315.57 L222.79,315.70 L223.07,314.32 L223.36,313.49 L223.64,313.12 L223.93,312.13 L224.21,311.82 L224.50,310.86 L224.71,309.95 L224.93,309.17 L225.14,309.06 L225.36,307.94 L225.57,307.69 L225.79,306.68 L226.00,306.39 L226.28,305.07 L226.57,304.27 L226.85,303.54 L227.13,303.28 L227.42,302.37 L227.70,301.36 L227.92,300.38 L228.15,300.16 L228.38,299.67 L228.60,298.58 L229.00,297.10 L229.40,296.18 L229.80,296.83 L230.20,297.50 L230.33,296.62 L230.47,295.87 L230.60,295.64 L230.73,295.09 L230.87,293.70 L231.00,293.63 L232.00,292.38 L232.23,291.84 L232.47,291.11 L232.70,290.30 L232.87,288.71 L233.03,288.19 L233.20,287.70 L233.32,288.72 L233.44,288.67 L233.56,289.57 L233.68,290.79 L233.80,290.85 L233.92,291.84 L234.04,292.53 L234.16,293.58 L234.28,294.55 L234.40,294.61 L234.49,295.85 L234.58,296.58 L234.67,297.40 L234.76,297.88 L234.84,298.95 L234.93,299.18 L235.02,299.96 L235.11,300.52 L235.20,301.75 L235.36,302.28 L235.52,302.89 L235.68,303.60 L235.84,304.90 L236.00,305.60 L236.13,306.41 L236.27,306.83 L236.40,307.64 L236.53,308.06 L236.67,309.27 L236.80,309.37 L237.00,310.57 L237.20,311.63 L237.40,312.36 L237.60,312.64 L237.78,313.44 L237.96,314.67 L238.14,315.17 L238.32,316.06 L238.50,316.74 L238.70,317.20 L238.90,318.46 L239.10,319.16 L239.30,319.65 L239.50,320.48 L239.70,321.01 L239.90,322.11 L240.10,323.41 L240.40,323.51 L240.70,324.80 L241.00,325.25 L241.27,326.02 L241.53,327.33 L241.80,327.77 L242.20,328.33 L242.60,329.15 L243.00,330.33 L243.43,330.94 L243.87,331.09 L244.30,331.96 L244.90,333.32 L245.50,333.35 L246.15,334.16 L246.80,334.53 L247.53,335.19 L248.27,335.36 L249.00,335.86 L249.90,335.87 L250.80,335.79 L251.70,336.01 L252.52,336.02 L253.34,336.79 L254.16,336.25 L254.98,336.27 L255.80,337.22 L256.57,336.58 L257.35,337.25 L258.12,336.58 L258.90,336.97 L259.68,336.80 L260.45,337.40 L261.23,337.25 L262.00,337.33 L262.73,337.45 L263.45,337.57 L264.18,337.12 L264.91,337.37 L265.64,337.24 L266.36,336.96 L267.09,337.63 L267.82,337.43 L268.55,337.65 L269.27,337.12 L270.00,337.44" fill="none" stroke="#2a2a2a" stroke-width="0.85"/>
<path d="M202.00,335.46 L202.75,335.52 L203.50,334.49 L204.25,334.57 L205.00,334.48 L205.75,333.69 L206.50,333.96 L207.25,333.88 L208.00,333.21 L208.67,333.14 L209.33,332.76 L210.00,331.96 L210.67,331.79 L211.33,332.23 L212.00,331.10 L212.75,330.84 L213.50,330.05 L214.25,329.84 L215.00,329.40 L215.72,329.96 L216.44,329.35 L217.16,329.17 L217.88,328.94 L218.60,328.13 L219.20,328.07 L219.80,327.14 L220.40,326.55 L221.00,326.74 L221.65,326.11 L222.30,325.59 L222.95,324.46 L223.60,324.23 L224.17,323.09 L224.73,323.10 L225.30,322.30 L225.83,320.85 L226.37,320.92 L226.90,319.32 L227.22,318.42 L227.55,318.37 L227.88,317.05 L228.20,316.52 L228.44,315.99 L228.68,314.59 L228.92,314.75 L229.16,313.51 L229.40,313.02 L229.64,312.25 L229.88,312.07 L230.12,311.42 L230.36,310.20 L230.60,309.32 L230.86,308.90 L231.12,308.37 L231.38,307.31 L231.64,306.74 L231.90,306.82 L232.22,306.12 L232.55,305.82 L232.88,305.20 L233.20,304.45 L233.60,303.01 L234.00,301.93 L234.40,301.27 L234.80,300.72 L235.20,300.06 L235.60,299.35 L236.00,298.50 L236.40,298.46 L236.80,297.14 L237.30,296.86 L237.80,296.86 L238.80,296.07 L239.50,294.66 L240.10,293.79 L240.35,293.62 L240.60,291.81 L241.10,292.96 L241.60,294.64 L241.85,295.64 L242.10,296.20 L242.28,296.91 L242.45,297.94 L242.62,299.47 L242.80,299.96 L242.98,301.38 L243.15,301.94 L243.32,302.98 L243.50,302.64 L243.70,303.65 L243.90,304.27 L244.10,305.59 L244.30,306.31 L244.50,306.79 L244.70,308.21 L244.90,308.49 L245.10,309.57 L245.60,310.35 L246.10,311.86 L246.60,312.20 L247.10,312.81 L247.40,313.35 L247.70,314.62 L248.00,315.65 L248.27,316.58 L248.53,317.73 L248.80,318.47 L249.07,318.50 L249.33,319.06 L249.60,320.51 L249.87,321.21 L250.13,321.54 L250.40,322.60 L250.73,323.06 L251.07,323.54 L251.40,324.20 L251.65,324.72 L251.90,326.17 L252.15,327.18 L252.40,327.89 L252.77,328.06 L253.13,329.00 L253.50,330.01 L253.93,330.48 L254.37,330.82 L254.80,331.20 L255.50,331.97 L256.20,332.20 L256.95,332.82 L257.70,334.02 L258.45,334.79 L259.20,334.66 L259.90,334.79 L260.60,335.02 L261.55,335.50 L262.50,336.26 L263.45,336.19 L264.40,337.15 L265.27,336.35 L266.13,336.71 L267.00,337.13 L267.71,337.04 L268.43,337.61 L269.14,337.62 L269.86,337.79 L270.57,337.45 L271.29,336.79 L272.00,337.49" fill="none" stroke="#000" stroke-width="1.8" stroke-linejoin="round"/>
<line x1="201.3" y1="204.5" x2="343.5" y2="204.5" stroke="#222" stroke-width="1" />
<line x1="343.5" y1="204.5" x2="343.5" y2="337.4" stroke="#333" stroke-width="1.1" />
<line x1="200.8" y1="337.4" x2="344.0" y2="337.4" stroke="#000" stroke-width="1.4" />
<line x1="201.3" y1="204.0" x2="201.3" y2="337.9" stroke="#000" stroke-width="1.1" />
<line x1="197.85" y1="337.4" x2="200.75" y2="337.4" stroke="#000" stroke-width="0.9" />
<text transform="translate(196.0,337.40) rotate(-90)" font-size="5.6" text-anchor="middle" fill="#2a2a2a" stroke="#2a2a2a" stroke-width="0.06" textLength="2.7" lengthAdjust="spacingAndGlyphs">0</text>
<line x1="199.35" y1="332.09999999999997" x2="200.75" y2="332.09999999999997" stroke="#000" stroke-width="0.9" />
<line x1="199.35" y1="326.79999999999995" x2="200.75" y2="326.79999999999995" stroke="#000" stroke-width="0.9" />
<line x1="199.35" y1="321.5" x2="200.75" y2="321.5" stroke="#000" stroke-width="0.9" />
<line x1="199.35" y1="316.2" x2="200.75" y2="316.2" stroke="#000" stroke-width="0.9" />
<line x1="197.85" y1="310.9" x2="200.75" y2="310.9" stroke="#000" stroke-width="0.9" />
<text transform="translate(196.0,310.90) rotate(-90)" font-size="5.6" text-anchor="middle" fill="#2a2a2a" stroke="#2a2a2a" stroke-width="0.06" textLength="5.4" lengthAdjust="spacingAndGlyphs">40</text>
<line x1="199.35" y1="305.59999999999997" x2="200.75" y2="305.59999999999997" stroke="#000" stroke-width="0.9" />
<line x1="199.35" y1="300.29999999999995" x2="200.75" y2="300.29999999999995" stroke="#000" stroke-width="0.9" />
<line x1="199.35" y1="295.0" x2="200.75" y2="295.0" stroke="#000" stroke-width="0.9" />
<line x1="199.35" y1="289.7" x2="200.75" y2="289.7" stroke="#000" stroke-width="0.9" />
<line x1="197.85" y1="284.4" x2="200.75" y2="284.4" stroke="#000" stroke-width="0.9" />
<text transform="translate(196.0,284.40) rotate(-90)" font-size="5.6" text-anchor="middle" fill="#2a2a2a" stroke="#2a2a2a" stroke-width="0.06" textLength="5.4" lengthAdjust="spacingAndGlyphs">80</text>
<line x1="199.35" y1="279.09999999999997" x2="200.75" y2="279.09999999999997" stroke="#000" stroke-width="0.9" />
<line x1="199.35" y1="273.79999999999995" x2="200.75" y2="273.79999999999995" stroke="#000" stroke-width="0.9" />
<line x1="199.35" y1="268.5" x2="200.75" y2="268.5" stroke="#000" stroke-width="0.9" />
<line x1="199.35" y1="263.2" x2="200.75" y2="263.2" stroke="#000" stroke-width="0.9" />
<line x1="197.85" y1="257.9" x2="200.75" y2="257.9" stroke="#000" stroke-width="0.9" />
<text transform="translate(196.0,257.90) rotate(-90)" font-size="5.6" text-anchor="middle" fill="#2a2a2a" stroke="#2a2a2a" stroke-width="0.06" textLength="8.100000000000001" lengthAdjust="spacingAndGlyphs">120</text>
<line x1="199.35" y1="252.59999999999997" x2="200.75" y2="252.59999999999997" stroke="#000" stroke-width="0.9" />
<line x1="199.35" y1="247.29999999999998" x2="200.75" y2="247.29999999999998" stroke="#000" stroke-width="0.9" />
<line x1="199.35" y1="242.0" x2="200.75" y2="242.0" stroke="#000" stroke-width="0.9" />
<line x1="199.35" y1="236.7" x2="200.75" y2="236.7" stroke="#000" stroke-width="0.9" />
<line x1="197.85" y1="231.39999999999998" x2="200.75" y2="231.39999999999998" stroke="#000" stroke-width="0.9" />
<text transform="translate(196.0,231.40) rotate(-90)" font-size="5.6" text-anchor="middle" fill="#2a2a2a" stroke="#2a2a2a" stroke-width="0.06" textLength="8.100000000000001" lengthAdjust="spacingAndGlyphs">160</text>
<line x1="199.35" y1="226.09999999999997" x2="200.75" y2="226.09999999999997" stroke="#000" stroke-width="0.9" />
<line x1="199.35" y1="220.79999999999998" x2="200.75" y2="220.79999999999998" stroke="#000" stroke-width="0.9" />
<line x1="199.35" y1="215.5" x2="200.75" y2="215.5" stroke="#000" stroke-width="0.9" />
<line x1="199.35" y1="210.2" x2="200.75" y2="210.2" stroke="#000" stroke-width="0.9" />
<line x1="197.85" y1="204.89999999999998" x2="200.75" y2="204.89999999999998" stroke="#000" stroke-width="0.9" />
<text transform="translate(196.0,204.90) rotate(-90)" font-size="5.6" text-anchor="middle" fill="#2a2a2a" stroke="#2a2a2a" stroke-width="0.06" textLength="8.100000000000001" lengthAdjust="spacingAndGlyphs">200</text>
<text transform="translate(190.0,272.7) rotate(-90)" font-size="5.6" text-anchor="middle" fill="#222" stroke="#222" stroke-width="0.1" textLength="17.6" lengthAdjust="spacingAndGlyphs">Counts</text>
<line x1="201.5" y1="337.4" x2="201.5" y2="341.2" stroke="#000" stroke-width="0.9" />
<text x="203.20" y="347.8" font-size="5.8" text-anchor="end" fill="#111" stroke="#111" stroke-width="0.12" style="font-family:'Liberation Sans', sans-serif;letter-spacing:0px">10</text>
<text x="203.70" y="344.90000000000003" font-size="4.6" text-anchor="start" fill="#111" stroke="#111" stroke-width="0.12" style="font-family:'Liberation Sans', sans-serif">0</text>
<line x1="212.12635884693853" y1="337.4" x2="212.12635884693853" y2="339.79999999999995" stroke="#000" stroke-width="0.8" />
<line x1="218.3423802916041" y1="337.4" x2="218.3423802916041" y2="339.79999999999995" stroke="#000" stroke-width="0.8" />
<line x1="222.75271769387706" y1="337.4" x2="222.75271769387706" y2="339.79999999999995" stroke="#000" stroke-width="0.8" />
<line x1="226.17364115306145" y1="337.4" x2="226.17364115306145" y2="339.79999999999995" stroke="#000" stroke-width="0.8" />
<line x1="228.96873913854262" y1="337.4" x2="228.96873913854262" y2="339.79999999999995" stroke="#000" stroke-width="0.8" />
<line x1="231.33196081250327" y1="337.4" x2="231.33196081250327" y2="339.79999999999995" stroke="#000" stroke-width="0.8" />
<line x1="233.37907654081562" y1="337.4" x2="233.37907654081562" y2="339.79999999999995" stroke="#000" stroke-width="0.8" />
<line x1="235.18476058320817" y1="337.4" x2="235.18476058320817" y2="339.79999999999995" stroke="#000" stroke-width="0.8" />
<line x1="236.8" y1="337.4" x2="236.8" y2="341.2" stroke="#000" stroke-width="0.9" />
<text x="238.50" y="347.8" font-size="5.8" text-anchor="end" fill="#111" stroke="#111" stroke-width="0.12" style="font-family:'Liberation Sans', sans-serif;letter-spacing:0px">10</text>
<text x="239.00" y="344.90000000000003" font-size="4.6" text-anchor="start" fill="#111" stroke="#111" stroke-width="0.12" style="font-family:'Liberation Sans', sans-serif">1</text>
<line x1="247.42635884693854" y1="337.4" x2="247.42635884693854" y2="339.79999999999995" stroke="#000" stroke-width="0.8" />
<line x1="253.6423802916041" y1="337.4" x2="253.6423802916041" y2="339.79999999999995" stroke="#000" stroke-width="0.8" />
<line x1="258.05271769387707" y1="337.4" x2="258.05271769387707" y2="339.79999999999995" stroke="#000" stroke-width="0.8" />
<line x1="261.47364115306146" y1="337.4" x2="261.47364115306146" y2="339.79999999999995" stroke="#000" stroke-width="0.8" />
<line x1="264.2687391385426" y1="337.4" x2="264.2687391385426" y2="339.79999999999995" stroke="#000" stroke-width="0.8" />
<line x1="266.6319608125033" y1="337.4" x2="266.6319608125033" y2="339.79999999999995" stroke="#000" stroke-width="0.8" />
<line x1="268.67907654081563" y1="337.4" x2="268.67907654081563" y2="339.79999999999995" stroke="#000" stroke-width="0.8" />
<line x1="270.4847605832082" y1="337.4" x2="270.4847605832082" y2="339.79999999999995" stroke="#000" stroke-width="0.8" />
<line x1="272.1" y1="337.4" x2="272.1" y2="341.2" stroke="#000" stroke-width="0.9" />
<text x="273.80" y="347.8" font-size="5.8" text-anchor="end" fill="#111" stroke="#111" stroke-width="0.12" style="font-family:'Liberation Sans', sans-serif;letter-spacing:0px">10</text>
<text x="274.30" y="344.90000000000003" font-size="4.6" text-anchor="start" fill="#111" stroke="#111" stroke-width="0.12" style="font-family:'Liberation Sans', sans-serif">2</text>
<line x1="282.7263588469386" y1="337.4" x2="282.7263588469386" y2="339.79999999999995" stroke="#000" stroke-width="0.8" />
<line x1="288.9423802916041" y1="337.4" x2="288.9423802916041" y2="339.79999999999995" stroke="#000" stroke-width="0.8" />
<line x1="293.3527176938771" y1="337.4" x2="293.3527176938771" y2="339.79999999999995" stroke="#000" stroke-width="0.8" />
<line x1="296.7736411530615" y1="337.4" x2="296.7736411530615" y2="339.79999999999995" stroke="#000" stroke-width="0.8" />
<line x1="299.56873913854264" y1="337.4" x2="299.56873913854264" y2="339.79999999999995" stroke="#000" stroke-width="0.8" />
<line x1="301.9319608125033" y1="337.4" x2="301.9319608125033" y2="339.79999999999995" stroke="#000" stroke-width="0.8" />
<line x1="303.97907654081564" y1="337.4" x2="303.97907654081564" y2="339.79999999999995" stroke="#000" stroke-width="0.8" />
<line x1="305.7847605832082" y1="337.4" x2="305.7847605832082" y2="339.79999999999995" stroke="#000" stroke-width="0.8" />
<line x1="307.4" y1="337.4" x2="307.4" y2="341.2" stroke="#000" stroke-width="0.9" />
<text x="309.10" y="347.8" font-size="5.8" text-anchor="end" fill="#111" stroke="#111" stroke-width="0.12" style="font-family:'Liberation Sans', sans-serif;letter-spacing:0px">10</text>
<text x="309.60" y="344.90000000000003" font-size="4.6" text-anchor="start" fill="#111" stroke="#111" stroke-width="0.12" style="font-family:'Liberation Sans', sans-serif">3</text>
<line x1="318.02635884693854" y1="337.4" x2="318.02635884693854" y2="339.79999999999995" stroke="#000" stroke-width="0.8" />
<line x1="324.24238029160404" y1="337.4" x2="324.24238029160404" y2="339.79999999999995" stroke="#000" stroke-width="0.8" />
<line x1="328.65271769387704" y1="337.4" x2="328.65271769387704" y2="339.79999999999995" stroke="#000" stroke-width="0.8" />
<line x1="332.07364115306143" y1="337.4" x2="332.07364115306143" y2="339.79999999999995" stroke="#000" stroke-width="0.8" />
<line x1="334.8687391385426" y1="337.4" x2="334.8687391385426" y2="339.79999999999995" stroke="#000" stroke-width="0.8" />
<line x1="337.23196081250325" y1="337.4" x2="337.23196081250325" y2="339.79999999999995" stroke="#000" stroke-width="0.8" />
<line x1="339.2790765408156" y1="337.4" x2="339.2790765408156" y2="339.79999999999995" stroke="#000" stroke-width="0.8" />
<line x1="341.08476058320815" y1="337.4" x2="341.08476058320815" y2="339.79999999999995" stroke="#000" stroke-width="0.8" />
<line x1="342.7" y1="337.4" x2="342.7" y2="341.2" stroke="#000" stroke-width="0.9" />
<text x="344.40" y="347.8" font-size="5.8" text-anchor="end" fill="#111" stroke="#111" stroke-width="0.12" style="font-family:'Liberation Sans', sans-serif;letter-spacing:0px">10</text>
<text x="344.90" y="344.90000000000003" font-size="4.6" text-anchor="start" fill="#111" stroke="#111" stroke-width="0.12" style="font-family:'Liberation Sans', sans-serif">4</text>
<text x="209.8" y="240.3" font-size="5.8" font-weight="normal" fill="#111" textLength="41.6" lengthAdjust="spacingAndGlyphs" stroke="#111" stroke-width="0.15">Isotype Control</text>
<line x1="216.8" y1="244.6" x2="216.8" y2="253.1" stroke="#000" stroke-width="0.9" />
<path d="M214.9,252.6 L218.70000000000002,252.6 L216.8,257.2 Z" fill="#000"/>
<text x="229.2" y="265.9" font-size="5.8" font-weight="normal" fill="#111" textLength="91.2" lengthAdjust="spacingAndGlyphs" stroke="#111" stroke-width="0.15">Unmatched, Doubly-Loaded DCs</text>
<line x1="232.1" y1="269.6" x2="232.1" y2="279.9" stroke="#000" stroke-width="0.9" />
<path d="M230.2,279.4 L234.0,279.4 L232.1,284.0 Z" fill="#000"/>
<text x="267.4" y="298.9" font-size="5.8" font-weight="normal" fill="#111" textLength="68.8" lengthAdjust="spacingAndGlyphs" stroke="#111" stroke-width="0.15">Matched, Doubly-Loaded</text>
<text x="267.4" y="307.0" font-size="5.8" font-weight="normal" fill="#111" textLength="10.9" lengthAdjust="spacingAndGlyphs" stroke="#111" stroke-width="0.15">DCs</text>
<line x1="248.3" y1="297.0" x2="262.2" y2="297.0" stroke="#000" stroke-width="0.9" />
<path d="M248.8,295.1 L248.8,298.9 L244.4,297.0 Z" fill="#000"/>
<text x="248.3" y="362.2" font-size="11.75" font-weight="bold" text-anchor="start" fill="#000" >CD40-PE</text>
</svg>
</body></html>
